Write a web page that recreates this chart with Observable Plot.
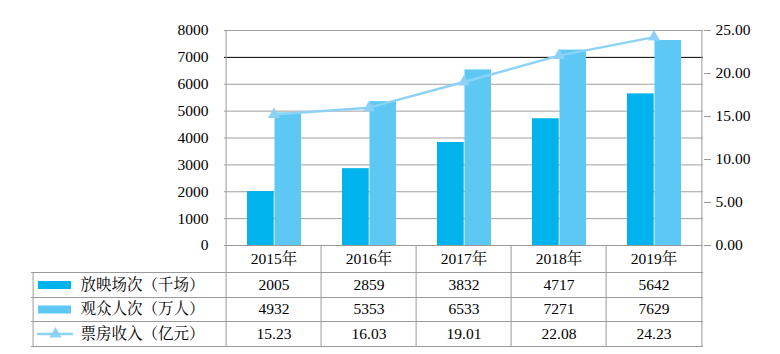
<!DOCTYPE html>
<html><head><meta charset="utf-8">
<script src="https://cdn.jsdelivr.net/npm/d3@7"></script>
<script src="https://cdn.jsdelivr.net/npm/@observablehq/plot@0.6"></script>
<style>
body{margin:0;background:#fff}
svg text{font-family:"Liberation Serif","Noto Serif CJK SC","Noto Sans CJK SC",serif !important;}
</style>
</head><body><div id="chart"></div>
<script>
const years = ["2015", "2016", "2017", "2018", "2019"];
const screenings = [2005, 2859, 3832, 4717, 5642];
const audience = [4932, 5353, 6533, 7271, 7629];
const boxOffice = [15.23, 16.03, 19.01, 22.08, 24.23];
const seriesNames = ["放映场次（千场）", "观众人次（万人）", "票房收入（亿元）"];
const leftTicks = [0, 1000, 2000, 3000, 4000, 5000, 6000, 7000, 8000];
const rightTicks = [0, 5, 10, 15, 20, 25];

const W = 780, H = 354, mL = 224, mR = 77, mT = 30, mB = 109;
const bw = (W - mL - mR) / years.length;
const plotH = H - mT - mB;
const y2 = d3.scaleLinear([0, 25], [0, 8000]);
const rows = years.map((y, i) => ({year: y, s: screenings[i], a: audience[i], b: boxOffice[i]}));

const dark = "#00b3ec", light = "#5dc8f4", lineC = "#8dd2f4", grid = "#a0a0a0", tbl = "#9a9a9a";
const rowCenters = [39.5, 64, 88.5];
const rowLines = [27, 52, 76, 101];

const marks = [
  Plot.ruleY(leftTicks.filter(t => t > 0 && t !== 7000), {stroke: grid}),
  Plot.ruleY([7000], {stroke: "#000"}),
  Plot.barY(rows, {x: "year", y: "s", fill: dark, insetLeft: 21, insetRight: bw - 48.5}),
  Plot.barY(rows, {x: "year", y: "a", fill: light, insetLeft: 48.5, insetRight: 20}),
  Plot.line(rows, {x: "year", y: d => y2(d.b), stroke: lineC, strokeWidth: 2.5}),
  Plot.dot(rows, {x: "year", y: d => y2(d.b), symbol: "triangle", r: 4.5, fill: lineC}),
  Plot.axisY(leftTicks, {anchor: "left", tickSize: 0, tickPadding: 16, label: null, tickFormat: d => String(d)}),
  Plot.axisY(rightTicks.map(y2), {anchor: "right", tickSize: 7, tickPadding: 5, stroke: tbl, label: null, tickFormat: d => y2.invert(d).toFixed(2)}),
  Plot.axisX({tickSize: 0, tickPadding: 7, label: null, tickFormat: d => d + "年"}),
  // frame / table lines
  Plot.ruleY([0], {stroke: tbl}),
  ...rowLines.map(dy => Plot.ruleY([0], {dy, insetLeft: -193, stroke: tbl})),
  Plot.ruleX([years[0]], {x: d => d, dx: -bw / 2, insetBottom: -101, stroke: tbl}),
  Plot.ruleX([years[4]], {x: d => d, dx: bw / 2, insetBottom: -101, stroke: tbl}),
  Plot.ruleX(years.slice(1), {x: d => d, dx: -bw / 2, insetTop: plotH, insetBottom: -101, stroke: tbl}),
  Plot.ruleX([years[0]], {x: d => d, dx: -bw / 2 - 193, insetTop: plotH + 27, insetBottom: -101, stroke: tbl}),
  // table values
  Plot.text(rows, {x: "year", text: d => String(d.s), frameAnchor: "bottom", dy: rowCenters[0], lineAnchor: "middle"}),
  Plot.text(rows, {x: "year", text: d => String(d.a), frameAnchor: "bottom", dy: rowCenters[1], lineAnchor: "middle"}),
  Plot.text(rows, {x: "year", text: d => d.b.toFixed(2), frameAnchor: "bottom", dy: rowCenters[2], lineAnchor: "middle"}),
  // legend labels
  ...seriesNames.map((n, i) => Plot.text([n], {text: d => d, frameAnchor: "bottom-left", textAnchor: "start", dx: 80 - mL, dy: rowCenters[i], lineAnchor: "middle"})),
  // legend swatches
  Plot.ruleY([0], {dy: rowCenters[0], insetLeft: 38 - mL, insetRight: (W - mR) - 71, stroke: dark, strokeWidth: 8}),
  Plot.ruleY([0], {dy: rowCenters[1], insetLeft: 38 - mL, insetRight: (W - mR) - 71, stroke: light, strokeWidth: 8}),
  Plot.ruleY([0], {dy: rowCenters[2], insetLeft: 37 - mL, insetRight: (W - mR) - 73, stroke: lineC, strokeWidth: 2.5}),
  Plot.dot([0], {frameAnchor: "bottom-left", dx: 55 - mL, dy: rowCenters[2], symbol: "triangle", r: 4.5, fill: lineC})
];

const chart = Plot.plot({
  width: W, height: H,
  marginLeft: mL, marginRight: mR, marginTop: mT, marginBottom: mB,
  style: {fontFamily: "'Liberation Serif','Noto Serif CJK SC','Noto Sans CJK SC',serif", fontSize: "15.5px", color: "#000", background: "#fff"},
  x: {domain: years, padding: 0, axis: null, label: null},
  y: {domain: [0, 8000], axis: null, label: null},
  marks
});
document.getElementById("chart").appendChild(chart);
</script>
</body></html>
